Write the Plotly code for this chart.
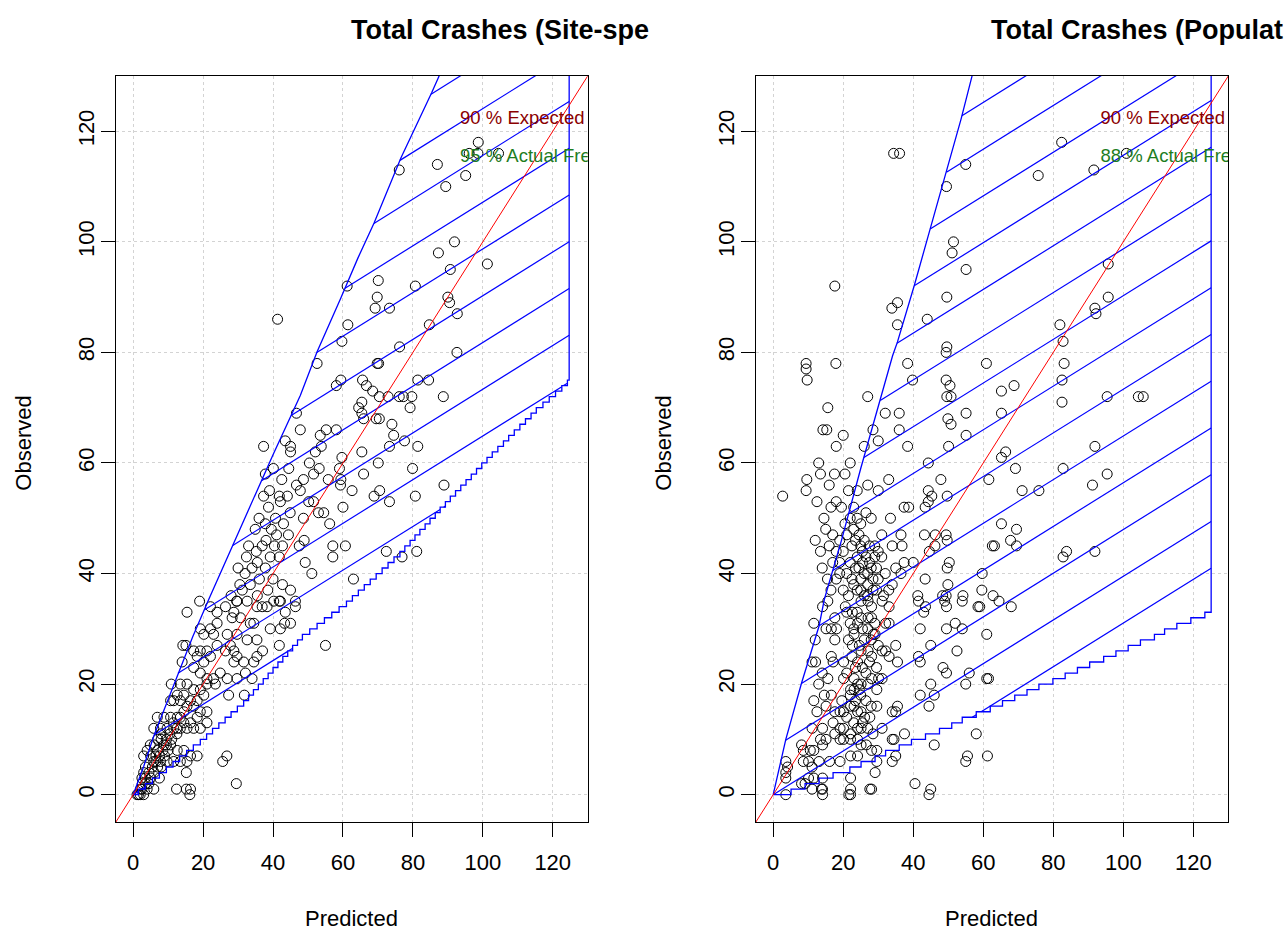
import plotly.graph_objects as go

# ---------------------------------------------------------------- layout data
FIG_W, FIG_H = 1286, 930
AXIS_RANGE = [-5, 130]
TICK_VALUES = [0, 20, 40, 60, 80, 100, 120]
TICK_LABELS = ["0", "20", "40", "60", "80", "100", "120"]

PANEL_TITLES = ["Total Crashes (Site-spe", "Total Crashes (Populat"]
X_LABEL = "Predicted"
Y_LABEL = "Observed"
EXPECTED_LABEL = "90 % Expected Frequency"
ACTUAL_LABELS = ["95 % Actual Frequency", "88 % Actual Frequency"]

# hatching of the confidence band (data units)
HATCH_SLOPE = 0.395
HATCH_GAP = 8.46

# ---------------------------------------------------------------- site-specific panel
SITE_POINTS = [
    (98.7, 118), (96.1, 116), (98.6, 116), (104.5, 116), (87.0, 114), (76.1, 113), (95.1, 112), (89.4, 110),
    (91.9, 100), (87.3, 98), (101.3, 96), (90.7, 95), (90.0, 90), (90.5, 89), (92.7, 87), (92.6, 80),
    (61.2, 92), (80.7, 92), (70.1, 93), (69.8, 90), (69.2, 88), (73.3, 88), (41.3, 86), (61.4, 85), (84.7, 85),
    (59.7, 82), (76.2, 81), (52.6, 78), (70.2, 78), (69.8, 78),
    (65.6, 75), (59.4, 75), (81.4, 75), (84.5, 75), (58.1, 74), (66.7, 74), (68.5, 73),
    (70.4, 72), (72.9, 72), (76.1, 72), (77.3, 72), (79.7, 72), (88.7, 72), (65.4, 71), (64.5, 70), (79.2, 70),
    (65.4, 69), (46.7, 69), (70.4, 68), (69.5, 68), (65.9, 68), (74.0, 67), (47.8, 66), (55.2, 66), (58.1, 66),
    (74.5, 65), (53.5, 65), (77.6, 64), (43.5, 64), (73.3, 63), (81.4, 63), (53.8, 63), (45.0, 63), (37.3, 63),
    (65.4, 62), (52.1, 62), (45.0, 62), (59.7, 61), (50.4, 60), (70.1, 60), (79.9, 59), (59.0, 59), (53.2, 59),
    (40.1, 59), (65.9, 58), (51.6, 58), (37.8, 58), (59.4, 57), (48.7, 57), (55.8, 57),
    (88.9, 56), (46.7, 56), (59.3, 56), (62.6, 55), (70.5, 55), (47.8, 55), (68.9, 54), (80.7, 54), (37.3, 54),
    (41.8, 54), (44.1, 54), (73.3, 53), (50.2, 53), (51.6, 53), (42.1, 53), (60.0, 52), (38.7, 52), (53.0, 51),
    (54.5, 51), (44.9, 51), (48.7, 50), (40.7, 50), (56.2, 49), (37.8, 49), (34.9, 48), (44.4, 47), (48.9, 46),
    (57.1, 45), (60.7, 45), (36.9, 45), (40.4, 45), (42.7, 45), (47.5, 45), (72.4, 44), (81.1, 44), (35.2, 44),
    (57.1, 43), (76.9, 43), (32.4, 43), (39.2, 43), (41.8, 43), (49.2, 42), (37.8, 41), (51.1, 40), (63.0, 39),
    (36.1, 39), (33.5, 38), (42.7, 38), (31.2, 37), (45.0, 37), (29.6, 35), (41.8, 35),
    (30.5, 38), (32.0, 40), (34.0, 41), (35.5, 42), (33.0, 45), (38.0, 46), (39.5, 48), (36.0, 50), (41.0, 47),
    (43.0, 49), (39.0, 55), (42.5, 57), (44.5, 59), (35.5, 36), (38.5, 37), (40.0, 39), (30.0, 41), (28.0, 36),
    (19.0, 35), (29.7, 35), (32.6, 35), (35.4, 34), (36.9, 34), (38.3, 34), (40.2, 35), (42.1, 35), (46.4, 35),
    (15.4, 33), (22.1, 34), (26.4, 34), (28.8, 33), (43.5, 33), (46.4, 34),
    (24.0, 33), (28.3, 32), (30.7, 32), (33.5, 31), (34.5, 31), (43.3, 31), (45.0, 31), (39.2, 30), (42.1, 30),
    (19.2, 30), (22.1, 30), (24.0, 31),
    (20.2, 29), (23.0, 29), (26.9, 29), (29.7, 29), (32.6, 28), (35.4, 28), (14.2, 27), (15.1, 27), (41.8, 27),
    (24.0, 27), (27.8, 27), (55.0, 27),
    (17.3, 26), (19.2, 26), (21.1, 26), (26.4, 26), (28.8, 26), (29.7, 25), (35.4, 25), (37.0, 26), (14.0, 24),
    (18.3, 25), (20.2, 24), (22.1, 25), (28.8, 24), (31.6, 24), (34.5, 24),
    (17.3, 23), (19.2, 22), (21.1, 21), (23.0, 21), (24.9, 22), (26.9, 21), (29.7, 21), (32.1, 22), (34.0, 21),
    (10.9, 20), (13.5, 20), (15.4, 20), (17.3, 19), (19.2, 19), (21.1, 20), (23.5, 20),
    (12.6, 18), (14.5, 18), (16.4, 17), (18.3, 17), (20.2, 18), (27.3, 18), (31.8, 18), (21.1, 13), (10.7, 17),
    (11.6, 17), (13.5, 17), (15.4, 16), (17.3, 16), (19.2, 15), (21.1, 15),
    (6.9, 14), (8.8, 14), (10.7, 14), (12.6, 14), (14.5, 13), (16.4, 13), (18.3, 14), (9.7, 12), (11.6, 12),
    (13.5, 12), (15.4, 12), (17.3, 12), (19.2, 12), (5.9, 12), (7.8, 12),
    (12.5, 11), (8.0, 10), (9.5, 10), (11.0, 10),
    (2.5, 3), (4.5, 4), (5.5, 5), (6.5, 6), (7.5, 7), (8.5, 8), (9.5, 9), (10.5, 11), (11.5, 13), (12.5, 12),
    (13.5, 14), (14.5, 15), (5.0, 7), (6.0, 9), (7.0, 10), (8.0, 11),
    (4.0, 8), (4.9, 9), (6.9, 8), (8.8, 9), (10.7, 9), (12.6, 8), (14.5, 8), (16.4, 7), (18.3, 7), (9.0, 7),
    (6.5, 7), (10.0, 8),
    (5.9, 6), (7.8, 6), (9.7, 6), (11.6, 6), (13.5, 6), (15.4, 6), (3.0, 7), (3.5, 5), (7.0, 5), (8.0, 5), (6.0, 4),
    (3.0, 4), (3.5, 3), (5.0, 3), (7.5, 3), (3.5, 2), (2.6, 2), (4.5, 2), (4.0, 1), (2.1, 1), (2.5, 1), (5.9, 1),
    (1.1, 0), (1.5, 0), (2.0, 0), (3.0, 0), (12.4, 1), (15.2, 1), (16.4, 1), (16.2, 0), (15.2, 4), (25.6, 6),
    (26.8, 7), (29.5, 2),
]

SITE_UPPER_X = [0, 3.0, 5.9, 9.5, 13.0, 17.0, 21.6, 27.0, 33.0, 40.0, 47.8, 52.6, 59.3, 64.3, 68.9, 76.6, 85.4, 91.0]
SITE_UPPER_Y = [0, 5.1, 10.6, 16.5, 22.3, 28.5, 35.3, 43.0, 51.5, 61.5, 72.2, 80.1, 89.7, 97.1, 103.4, 115.2, 127.0, 135.0]
SITE_LOWER_STEPS = [
    1.5, 3.5, 5.5, 7.5, 9.5, 11.4, 13.3, 15.3, 17.2, 19.2,
    21.0, 22.7, 24.5, 26.3, 28.0, 29.8, 31.6,
    33.0, 34.4, 35.8, 37.2, 38.6, 40.0, 41.4, 42.8, 44.2, 45.6, 47.0, 48.4,
    50.5, 52.6, 54.7, 56.8, 58.9, 61.0,
    62.7, 64.4, 66.1, 67.8, 69.5, 71.2, 72.9, 74.6, 76.3,
    77.7, 79.2, 80.6, 82.0, 83.5, 84.9, 86.4, 87.8,
    89.3, 90.7, 92.2, 93.7, 95.2, 96.7, 98.2, 99.7, 101.2,
    102.7, 104.3, 105.9, 107.4, 109.0, 110.6, 112.2, 113.8, 115.3,
    117.2, 119.0, 120.8, 122.6, 124.2,
]
SITE_LOWER_LEVELS = [
    1, 2, 3, 4, 5, 6, 7, 8, 9, 10, 11, 12, 13, 14, 15, 16, 17, 18, 19, 20,
    21, 22, 23, 24, 25, 26, 27, 28, 29, 30, 31, 32, 33, 34, 35, 36, 37, 38, 39, 40,
    41, 42, 43, 44, 45, 46, 47, 48, 49, 50, 51, 52, 53, 54, 55, 56, 57, 58, 59, 60,
    61, 62, 63, 64, 65, 66, 67, 68, 69, 70, 71, 72, 73, 74, 75,
]
SITE_END = 124.7

# ---------------------------------------------------------------- population panel
POP_POINTS = [
    (34.4, 116), (36.1, 116), (55.0, 114), (49.5, 110), (82.4, 118), (75.7, 112), (91.6, 113), (100.9, 116),
    (51.5, 100), (51.1, 98), (55.1, 95), (95.7, 96), (17.6, 92), (49.6, 90), (95.7, 90), (35.5, 89), (33.9, 88),
    (91.9, 88), (92.2, 87), (44.0, 86), (35.5, 85), (81.9, 85), (82.8, 82), (49.6, 81), (49.4, 80), (17.9, 78),
    (83.1, 78), (38.4, 78), (60.9, 78), (9.4, 78), (9.4, 77), (9.7, 75), (82.5, 75), (39.8, 75), (49.4, 75),
    (50.5, 74), (68.8, 74), (65.2, 73), (95.4, 72), (104.3, 72), (105.7, 72), (49.6, 72), (50.8, 72), (82.5, 71),
    (15.6, 70), (55.1, 69), (65.2, 69), (36.0, 69), (49.9, 68), (50.8, 67), (14.2, 66), (15.3, 66), (36.0, 66),
    (55.1, 65), (50.1, 63), (38.4, 63), (91.9, 63), (66.4, 62), (65.2, 61), (44.3, 60), (69.2, 59), (82.8, 59),
    (95.4, 58), (61.6, 57), (47.9, 57), (9.6, 57), (91.2, 56), (71.1, 55), (75.9, 55), (44.3, 55), (9.4, 55),
    (45.3, 54), (49.7, 54), (2.7, 54), (44.3, 53), (43.4, 52), (37.4, 52), (38.7, 52), (65.2, 49), (69.5, 48),
    (43.2, 47), (46.3, 47), (49.4, 47), (36.5, 47), (67.8, 46), (49.7, 46), (69.5, 45), (62.6, 45), (63.2, 45),
    (46.2, 45), (36.8, 45), (44.6, 44), (83.8, 44), (91.9, 44), (82.8, 43), (40.0, 42), (50.3, 42), (37.4, 42),
    (49.7, 41), (59.7, 40), (36.5, 40), (43.4, 39), (49.9, 38), (59.6, 37), (62.8, 36), (54.2, 36), (49.4, 36),
    (48.4, 36), (41.3, 36),
    (13.0, 60), (13.5, 58), (16.0, 56), (17.5, 58), (18.0, 53), (19.5, 52), (20.5, 49), (21.0, 47), (22.5, 45),
    (23.0, 52), (24.0, 43), (24.5, 41), (25.5, 44), (26.0, 40), (27.0, 38), (27.5, 42), (28.5, 37), (29.0, 45),
    (30.0, 39), (31.0, 43), (32.0, 40), (33.0, 37), (34.0, 38), (35.0, 41), (12.0, 46), (13.5, 44), (14.0, 41),
    (15.5, 39), (16.5, 37), (18.0, 39), (19.0, 42), (20.0, 37), (21.5, 36), (22.5, 39), (23.5, 41), (25.0, 37),
    (27.0, 36), (29.5, 37), (31.5, 36), (15.0, 48), (17.0, 47), (19.0, 46), (25.0, 49), (26.5, 51), (28.0, 50),
    (30.0, 55), (33.0, 57), (27.0, 56), (24.0, 55), (22.0, 60), (26.0, 63), (28.5, 66), (30.0, 64), (32.0, 69),
    (27.0, 72), (20.0, 65), (18.0, 63), (31.0, 47), (33.5, 50), (34.0, 45),
    (20.5, 58), (21.5, 55), (22.0, 50), (23.0, 48), (23.5, 46), (24.0, 50), (24.5, 47), (25.0, 45), (25.5, 42),
    (26.0, 46), (26.5, 43), (27.0, 40), (27.5, 45), (28.0, 41), (28.5, 39), (29.0, 43), (29.5, 41), (30.0, 44),
    (21.0, 40), (22.0, 42), (23.0, 38), (24.0, 37), (25.0, 39), (26.0, 36), (20.0, 44), (19.0, 40), (18.0, 44),
    (17.0, 42), (16.0, 45), (14.5, 50), (16.5, 52), (12.5, 53),
    (21.0, 33), (22.0, 31), (23.0, 30), (24.0, 33), (25.5, 30), (26.0, 28), (27.0, 30), (28.0, 28), (29.0, 31),
    (30.0, 27), (21.5, 28), (22.5, 25), (23.5, 23), (25.5, 23), (26.5, 22), (27.5, 24), (29.5, 23), (21.0, 22),
    (22.0, 18), (23.5, 17), (25.0, 18), (26.5, 17), (28.0, 16), (21.0, 14), (23.0, 13), (25.5, 13), (27.0, 12),
    (28.5, 11), (13.0, 20), (14.0, 22), (12.5, 15), (13.5, 10), (12.0, 28),
    (14.1, 34), (15.6, 35), (20.6, 34), (22.6, 33), (25.1, 35), (27.1, 35), (28.1, 34), (31.1, 35), (33.1, 34),
    (41.5, 35), (43.0, 33), (43.5, 34), (49.0, 35), (49.5, 34), (54.0, 35), (58.5, 34), (59.0, 34), (68.0, 34),
    (64.5, 35),
    (11.6, 31), (15.1, 30), (16.6, 30), (17.6, 32), (18.1, 30), (23.1, 29), (24.1, 31), (25.1, 32), (27.1, 32),
    (28.1, 32), (32.1, 31), (33.1, 31), (42.0, 30), (49.5, 30), (52.0, 31), (54.0, 30), (61.0, 29),
    (17.6, 28), (22.6, 27), (24.6, 27), (25.1, 26), (27.1, 26), (28.6, 29), (29.1, 29), (31.1, 26), (32.1, 26),
    (33.1, 25), (35.0, 27), (35.5, 24), (41.5, 25), (42.0, 24), (45.0, 27), (52.5, 26), (11.1, 24), (12.1, 24),
    (16.6, 25), (17.1, 24), (20.1, 24), (24.1, 24), (28.1, 25),
    (15.6, 21), (20.1, 21), (23.1, 21), (24.1, 20), (25.1, 20), (27.1, 20), (28.1, 21), (30.1, 21), (31.1, 21),
    (22.1, 19), (23.1, 19), (24.6, 19), (29.6, 19), (45.0, 20), (48.5, 23), (49.5, 22), (56.0, 22), (55.0, 20),
    (61.0, 21), (61.5, 21), (42.0, 18), (46.0, 18), (44.5, 16), (11.6, 17), (14.6, 18), (16.6, 18), (19.6, 17),
    (15.1, 16), (17.6, 15), (19.1, 15), (20.1, 15), (22.1, 16), (23.1, 16), (24.1, 15), (25.1, 15), (26.1, 14),
    (27.6, 14), (29.6, 16), (35.0, 15), (34.0, 15), (35.5, 16), (14.1, 12), (17.1, 13), (19.1, 12), (20.1, 12),
    (22.1, 11), (24.1, 12), (25.1, 12), (31.1, 12), (37.5, 11), (58.0, 11), (11.1, 12),
    (8.1, 9), (8.6, 8), (10.6, 8), (11.6, 8), (14.1, 9), (15.1, 10), (17.6, 11), (19.1, 10), (20.1, 10),
    (22.1, 10), (24.1, 10), (25.1, 9), (26.6, 9), (28.1, 8), (29.6, 8), (34.0, 10), (34.5, 10), (35.0, 7),
    (34.0, 6), (46.0, 9), (55.0, 6), (55.5, 7), (61.2, 7), (3.6, 6), (4.1, 5), (8.6, 6), (10.1, 6), (11.1, 5),
    (13.1, 6), (16.1, 6), (19.1, 6), (22.1, 7), (24.1, 7), (29.1, 4), (29.6, 6),
    (3.6, 4), (3.6, 3), (8.1, 2), (9.1, 2), (10.1, 3), (11.6, 3), (14.1, 3), (11.1, 1), (14.1, 1), (14.1, 0),
    (22.1, 3), (22.1, 1), (21.6, 0), (27.6, 1), (28.1, 1), (40.5, 2), (45.0, 1), (44.5, 0), (3.6, 0), (13.8, 1),
    (22.1, 0),
]

POP_UPPER_X = [0, 3.6, 8.1, 13.1, 14.6, 19.5, 25.0, 30.0, 34.1, 35.5, 40.3, 44.6, 49.4, 53.7, 57.0, 60.0]
POP_UPPER_Y = [0, 10.0, 20.2, 30.5, 35.3, 46.0, 59.0, 70.0, 79.4, 81.9, 92.1, 101.8, 112.4, 122.3, 130.5, 137.0]
POP_LOWER_STEPS = [
    5.1, 9.1, 13.1, 17.1, 21.9, 25.1, 29.1, 32.1, 36.0, 39.5, 43.5, 47.5, 51.0, 54.0, 58.0, 62.0, 65.5,
    69.0, 72.5, 75.9, 79.9, 83.4, 86.9, 90.4, 94.4, 97.9, 101.4, 104.9, 108.9, 111.8, 115.3, 119.3, 123.3,
]
POP_LOWER_LEVELS = [
    1, 2, 3, 4, 5, 6, 7, 8, 9, 10, 11, 12, 13, 14, 15, 16, 17,
    18, 19, 20, 21, 22, 23, 24, 25, 26, 27, 28, 29, 30, 31, 32, 33,
]
POP_END = 125.1

# ---------------------------------------------------------------- styling
BLUE = "#0000FF"
RED = "#FF0000"
DARK_RED = "#8B0000"
GREEN = "#1E7D1E"
GRID = "#D3D3D3"
FONT = "Liberation Sans, Arial, sans-serif"

# plot boxes in pixels (left, right, top, bottom)
BOXES = [(115.7, 587.7, 76.0, 822.3), (755.7, 1228.3, 76.0, 822.3)]


def stair_path(steps, levels, x_end):
    """Lower limit drawn as a staircase starting at the origin."""
    xs, ys = [0.0], [0.0]
    prev = 0
    for s, lv in zip(steps, levels):
        xs += [s, s]
        ys += [prev, lv]
        prev = lv
    xs.append(x_end)
    ys.append(prev)
    return xs, ys


def band_polygon(ux, uy, lx, ly, x_end):
    px = list(ux) + [x_end] + list(reversed(lx))
    py = list(uy) + [uy[-1]] + list(reversed(ly))
    return px, py


def hatch(px, py, slope, gap, ks):
    """Parallel lines y = slope*x + k*gap clipped to the polygon (even-odd)."""
    hx, hy = [], []
    n = len(px)
    for k in ks:
        c = k * gap
        f = [py[i] - slope * px[i] - c for i in range(n)]
        cuts = []
        for i in range(n):
            j = (i + 1) % n
            if (f[i] > 0) != (f[j] > 0):
                t = f[i] / (f[i] - f[j])
                cuts.append(px[i] + t * (px[j] - px[i]))
        cuts.sort()
        for a, b in zip(cuts[0::2], cuts[1::2]):
            hx += [a, b, None]
            hy += [slope * a + c, slope * b + c, None]
    return hx, hy


fig = go.Figure()

panels = [
    (SITE_POINTS, SITE_UPPER_X, SITE_UPPER_Y, SITE_LOWER_STEPS, SITE_LOWER_LEVELS, SITE_END, ACTUAL_LABELS[0]),
    (POP_POINTS, POP_UPPER_X, POP_UPPER_Y, POP_LOWER_STEPS, POP_LOWER_LEVELS, POP_END, ACTUAL_LABELS[1]),
]

for idx, (pts, ux, uy, lsteps, llevels, x_end, actual_label) in enumerate(panels):
    xa = "x" if idx == 0 else "x2"
    ya = "y" if idx == 0 else "y2"

    # observed vs predicted
    fig.add_trace(go.Scatter(
        x=[p for p, _ in pts], y=[o for _, o in pts], mode="markers",
        marker=dict(symbol="circle-open", size=10, color="black", line=dict(width=1, color="black")),
        xaxis=xa, yaxis=ya, showlegend=False, hoverinfo="skip"))

    # band outline and hatching
    lx, ly = stair_path(lsteps, llevels, x_end)
    px, py = band_polygon(ux, uy, lx, ly, x_end)
    hx, hy = hatch(px, py, HATCH_SLOPE, HATCH_GAP, range(-4, 20))
    fig.add_trace(go.Scatter(
        x=hx, y=hy, mode="lines", line=dict(color=BLUE, width=1.2),
        xaxis=xa, yaxis=ya, showlegend=False, hoverinfo="skip"))
    fig.add_trace(go.Scatter(
        x=px + [px[0]], y=py + [py[0]], mode="lines", line=dict(color=BLUE, width=1.3),
        xaxis=xa, yaxis=ya, showlegend=False, hoverinfo="skip"))

    # 1:1 line across the whole plot region
    fig.add_trace(go.Scatter(
        x=AXIS_RANGE, y=AXIS_RANGE, mode="lines", line=dict(color=RED, width=1),
        xaxis=xa, yaxis=ya, showlegend=False, hoverinfo="skip"))

    # legend-like labels, clipped by the plot box
    fig.add_trace(go.Scatter(
        x=[93.5, 93.5], y=[122.2, 115.3], mode="text",
        text=[EXPECTED_LABEL, actual_label], textposition="middle right",
        textfont=dict(family=FONT, size=18.5, color=[DARK_RED, GREEN]),
        cliponaxis=True, xaxis=xa, yaxis=ya, showlegend=False, hoverinfo="skip"))

axis_common = dict(
    range=AXIS_RANGE, tickvals=TICK_VALUES, ticktext=TICK_LABELS,
    ticks="outside", ticklen=14, tickwidth=1, tickcolor="black",
    showline=True, mirror=True, linecolor="black", linewidth=1,
    showgrid=True, gridcolor=GRID, griddash="dot", gridwidth=1,
    zeroline=False, tickfont=dict(family=FONT, size=22, color="black"),
    fixedrange=True,
)

layout_axes = {}
for idx, (l, r, t, b) in enumerate(BOXES):
    suffix = "" if idx == 0 else "2"
    layout_axes["xaxis" + suffix] = dict(axis_common, domain=[l / FIG_W, r / FIG_W],
                                         anchor="y" + suffix, ticklabelstandoff=6)
    layout_axes["yaxis" + suffix] = dict(axis_common, domain=[1 - b / FIG_H, 1 - t / FIG_H],
                                         anchor="x" + suffix, tickangle=-90, ticklabelstandoff=-2)

annotations = []
for idx, (l, r, t, b) in enumerate(BOXES):
    cx = (l + r) / 2
    annotations.append(dict(
        text="<b>%s</b>" % PANEL_TITLES[idx], x=(cx - 3) / FIG_W, y=1 - 30 / FIG_H,
        xref="paper", yref="paper", xanchor="left", yanchor="middle", showarrow=False,
        font=dict(family=FONT, size=27, color="black")))
    annotations.append(dict(
        text=X_LABEL, x=cx / FIG_W, y=1 - 918 / FIG_H, xref="paper", yref="paper",
        xanchor="center", yanchor="middle", showarrow=False,
        font=dict(family=FONT, size=22, color="black")))
    annotations.append(dict(
        text=Y_LABEL, x=(l - 93) / FIG_W, y=1 - 443 / FIG_H, xref="paper", yref="paper",
        xanchor="center", yanchor="middle", textangle=-90, showarrow=False,
        font=dict(family=FONT, size=22, color="black")))

fig.update_layout(
    width=FIG_W, height=FIG_H,
    margin=dict(l=0, r=0, t=0, b=0, pad=0),
    paper_bgcolor="white", plot_bgcolor="white",
    annotations=annotations,
    **layout_axes,
)

fig.write_html("out.html", config={"displayModeBar": False})
